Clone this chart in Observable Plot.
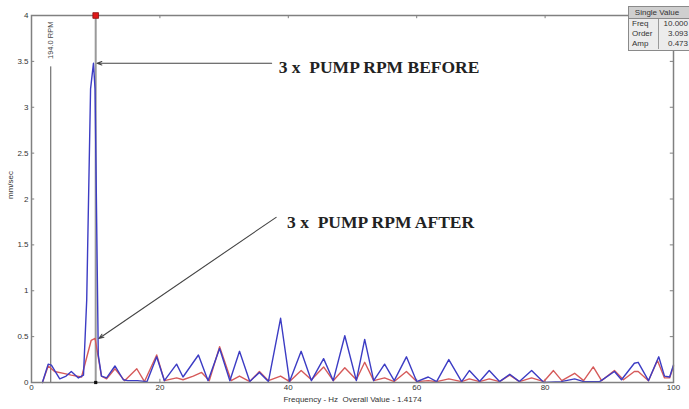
<!DOCTYPE html>
<html><head><meta charset="utf-8">
<script src="https://cdn.jsdelivr.net/npm/d3@7"></script>
<script src="https://cdn.jsdelivr.net/npm/@observablehq/plot@0.6"></script>
<style>
body{margin:0;background:#fff;}
#wrap{position:relative;width:689px;height:409px;overflow:hidden;background:#fff;}
#box{position:absolute;left:628px;top:6px;width:64px;height:45px;background:#ececec;border:1px solid #8a8a8a;box-sizing:border-box;font:8px "Liberation Sans",Arial,sans-serif;color:#333;}
#hdr{height:11px;line-height:11px;text-align:center;background:#cfcfcf;border-bottom:1px solid #8a8a8a;padding-right:6px;}
.row{display:flex;height:10px;line-height:10px;}
.k{width:30px;padding-left:3px;box-sizing:border-box;border-right:1px solid #9a9a9a;}
.v{flex:1;text-align:right;padding-right:3px;}
</style>
</head><body>
<div id="wrap"><div id="box"><div id="hdr"></div><div id="rows"></div></div></div>
<script>
// Spectrum "before" (blue)
const freqBefore = [1.7,2.6,3.1,4.4,5.4,6.2,7.3,8.1,8.6,9.2,9.65,9.9,10.4,10.9,11.7,13.0,14.3,15.0,16.5,18.0,19.5,20.7,22.6,23.6,26.0,27.5,29.3,30.9,32.4,34.0,35.5,36.9,38.8,40.2,42.0,43.6,45.5,47.0,48.8,50.6,51.9,53.3,55.0,56.5,58.4,60.0,61.8,63.1,65.0,67.0,68.2,69.8,71.3,72.9,74.5,76.0,77.9,79.8,82.5,84.6,86.0,88.5,90.8,91.9,93.9,94.5,96.1,97.7,98.6,99.4,100];
const ampBefore  = [0,0.20,0.19,0.04,0.07,0.12,0.05,0.08,0.9,3.2,3.48,3.2,0.3,0.07,0.05,0.18,0.03,0.02,0.02,0.01,0.28,0.02,0.20,0.06,0.30,0.02,0.37,0.02,0.34,0.01,0.11,0.01,0.70,0.01,0.34,0.02,0.26,0.02,0.51,0.02,0.47,0.02,0.20,0.02,0.28,0.01,0.06,0.01,0.25,0.01,0.13,0.01,0.13,0.01,0.09,0.01,0.13,0.0,0.01,0.04,0.01,0.01,0.12,0.03,0.21,0.22,0.02,0.28,0.07,0.06,0.19];
// Spectrum "after" (red)
const freqAfter = [1.7,2.6,3.6,5.0,6.2,7.8,9.3,9.9,10.9,11.7,13.0,14.5,16.4,17.6,19.5,20.7,22.6,23.6,25.2,26.5,27.7,29.3,31.1,32.4,34.0,35.5,36.9,38.8,40.2,42.0,43.6,45.5,47.0,48.8,50.6,51.9,53.3,55.0,56.5,58.4,60.0,61.8,63.1,65.0,67.0,68.2,69.8,71.3,72.9,74.5,76.0,77.9,79.8,81.3,82.6,84.6,86.0,87.5,88.8,90.8,92.2,93.9,94.5,96.1,97.5,98.6,99.4,100];
const ampAfter  = [0,0.18,0.12,0.10,0.08,0.06,0.46,0.48,0.07,0.04,0.15,0.02,0.15,0.01,0.30,0.02,0.05,0.03,0.07,0.11,0.02,0.39,0.02,0.07,0.01,0.12,0.02,0.07,0.01,0.13,0.03,0.17,0.02,0.16,0.03,0.22,0.02,0.05,0.01,0.12,0.01,0.02,0.01,0.04,0.01,0.04,0.01,0.04,0.01,0.08,0.01,0.05,0.01,0.13,0.02,0.10,0.02,0.17,0.02,0.13,0.03,0.12,0.12,0.02,0.24,0.05,0.05,0.18];

const xTicks = [0,20,40,60,80,100];
const yTicks = [0,0.5,1,1.5,2,2.5,3,3.5,4];
const yTickLabels = ["0","0.5","1","1.5","2","2.5","3","3.5","4"];

const cursorFreq = 10.0;
const rpmFreq = 3.0, rpmLineTop = 3.44, rpmLabelY = 3.73, rpmLabel = "194.0 RPM";
const annoText = ["3 x  PUMP RPM BEFORE", "3 x  PUMP RPM AFTER"];
const annoTextX = [38.5, 39.8], annoTextY = [3.43, 1.74];
const arrowX1 = [37.4, 38.1], arrowY1 = [3.48, 1.80], arrowX2 = [10.2, 10.5], arrowY2 = [3.48, 0.48];

const boxTitle = "Single Value";
const boxLabels = ["Freq","Order","Amp"];
const boxValues = ["10.000","3.093","0.473"];

const before = freqBefore.map((f,i)=>({f, a: ampBefore[i]}));
const after = freqAfter.map((f,i)=>({f, a: ampAfter[i]}));
const annos = annoText.map((t,i)=>({t, x: annoTextX[i], y: annoTextY[i], x1: arrowX1[i], y1: arrowY1[i], x2: arrowX2[i], y2: arrowY2[i]}));

const axisColor = "#808080";
const chart = Plot.plot({
  width: 689, height: 409,
  marginLeft: 31, marginRight: 16, marginTop: 15, marginBottom: 27,
  style: {fontFamily: "'Liberation Sans', Arial, sans-serif", fontSize: "8px", color: "#333", background: "white", whiteSpace: "pre"},
  x: {domain: [0,100], label: null},
  y: {domain: [0,4], label: null},
  marks: [
    Plot.axisX(xTicks, {tickSize: 0, tickPadding: 2, fontSize: 8, fill: "#333"}),
    Plot.axisY(yTicks, {tickSize: 0, tickPadding: 3, fontSize: 8, fill: "#333", tickFormat: d => yTickLabels[yTicks.indexOf(d)]}),
    Plot.ruleX(xTicks, {x: d => d, y1: 0, y2: 0.035, stroke: axisColor}),
    Plot.ruleX(xTicks, {x: d => d, y1: 3.965, y2: 4, stroke: axisColor}),
    Plot.ruleY(yTicks, {y: d => d, x1: 0, x2: 0.5, stroke: axisColor}),
    Plot.ruleY(yTicks, {y: d => d, x1: 99.5, x2: 100, stroke: axisColor}),
    Plot.ruleX([rpmFreq], {y1: 0, y2: rpmLineTop, stroke: "#555", strokeWidth: 1}),
    Plot.text([rpmLabel], {x: rpmFreq, y: rpmLabelY, rotate: -90, fontSize: 7.5, fill: "#444"}),
    Plot.ruleX([cursorFreq], {stroke: "#9a9a9a", strokeWidth: 2}),
    Plot.line(after, {x: "f", y: "a", stroke: "#d65a5a", strokeWidth: 1.4, strokeLinejoin: "round"}),
    Plot.line(before, {x: "f", y: "a", stroke: "#3c3cc4", strokeWidth: 1.4, strokeLinejoin: "round"}),
    Plot.frame({stroke: axisColor, strokeWidth: 1.5}),
    Plot.dot([cursorFreq], {x: d => d, y: 4, symbol: "square", r: 3.2, fill: "#e01818", stroke: "#8a1010", strokeWidth: 0.8}),
    Plot.dot([cursorFreq], {x: d => d, y: 0, symbol: "square", r: 1.8, fill: "#111"}),
    Plot.arrow(annos, {x1: "x1", y1: "y1", x2: "x2", y2: "y2", stroke: "#444", strokeWidth: 1.1, headLength: 7, headAngle: 40}),
    Plot.text(annos, {x: "x", y: "y", text: "t", textAnchor: "start", fontFamily: "'Liberation Serif', 'Times New Roman', serif", fontWeight: "bold", fontSize: 17.5, fill: "#222"}),
    Plot.text(["mm/sec"], {frameAnchor: "left", dx: -21, rotate: -90, fontSize: 8, fill: "#333"}),
    Plot.text(["Frequency - Hz  Overall Value - 1.4174"], {frameAnchor: "bottom", dy: 19, fontSize: 8, fill: "#333"})
  ]
});
const wrap = document.getElementById("wrap");
wrap.insertBefore(chart, wrap.firstChild);
document.getElementById("hdr").textContent = boxTitle;
const rows = document.getElementById("rows");
boxLabels.forEach((k,i) => {
  const r = document.createElement("div"); r.className = "row";
  const a = document.createElement("span"); a.className = "k"; a.textContent = k;
  const b = document.createElement("span"); b.className = "v"; b.textContent = boxValues[i];
  r.appendChild(a); r.appendChild(b); rows.appendChild(r);
});
</script>
</body></html>
